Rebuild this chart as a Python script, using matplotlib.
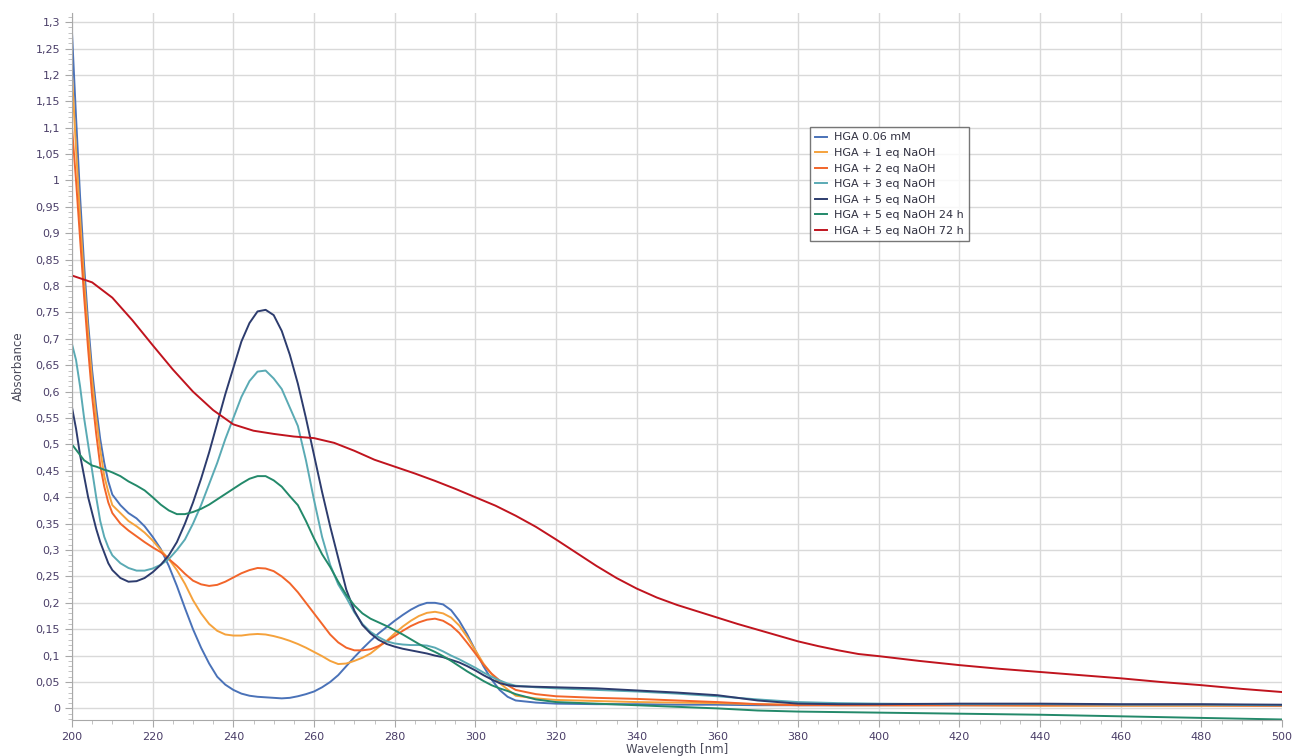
import matplotlib
matplotlib.use("Agg")
import matplotlib.pyplot as plt
from matplotlib.ticker import MultipleLocator, FuncFormatter

# Wavelength grid (nm) shared by the first six spectra
wavelength = [200, 201, 202, 203, 204, 205, 206, 207, 208, 209, 210,
              212, 214, 216, 218, 220, 222, 224, 226, 228, 230,
              232, 234, 236, 238, 240, 242, 244, 246, 248, 250,
              252, 254, 256, 258, 260, 262, 264, 266, 268, 270,
              272, 274, 276, 278, 280, 282, 284, 286, 288, 290,
              292, 294, 296, 298, 300, 302, 304, 306, 308, 310,
              315, 320, 330, 340, 350, 360, 370, 380, 390, 400,
              420, 440, 460, 480, 500]

hga = [1.28, 1.12, 0.97, 0.84, 0.73, 0.64, 0.57, 0.51, 0.465, 0.43, 0.405,
       0.385, 0.37, 0.36, 0.345, 0.325, 0.302, 0.27, 0.232, 0.19, 0.15,
       0.115, 0.085, 0.06, 0.045, 0.035, 0.028, 0.024, 0.022, 0.021, 0.02,
       0.019, 0.02, 0.023, 0.027, 0.032, 0.04, 0.05, 0.063, 0.08, 0.097,
       0.113, 0.128, 0.142, 0.154, 0.166, 0.177, 0.187, 0.195, 0.2, 0.2,
       0.197, 0.186, 0.166, 0.14, 0.11, 0.08, 0.055, 0.035, 0.022, 0.015,
       0.011, 0.009, 0.008, 0.008, 0.007, 0.007, 0.006, 0.006, 0.006, 0.006,
       0.006, 0.006, 0.006, 0.006, 0.006]

naoh_1 = [1.2, 1.06, 0.93, 0.81, 0.71, 0.62, 0.55, 0.49, 0.44, 0.41, 0.385,
          0.37, 0.355, 0.345, 0.333, 0.318, 0.3, 0.283, 0.262, 0.236, 0.205,
          0.18, 0.16, 0.147, 0.14, 0.138, 0.138, 0.14, 0.141, 0.14, 0.137,
          0.133, 0.128, 0.122, 0.115, 0.107, 0.099, 0.09, 0.084, 0.085, 0.09,
          0.096, 0.104, 0.116, 0.128, 0.142, 0.155, 0.166, 0.175, 0.181, 0.183,
          0.18, 0.172, 0.157, 0.135, 0.11, 0.085, 0.065, 0.048, 0.036, 0.024,
          0.019, 0.016, 0.014, 0.012, 0.011, 0.01, 0.008, 0.007, 0.006, 0.006,
          0.006, 0.005, 0.005, 0.005, 0.005]

naoh_2 = [1.1, 1.0, 0.89, 0.78, 0.68, 0.59, 0.52, 0.46, 0.42, 0.39, 0.37,
          0.35, 0.337, 0.326, 0.315, 0.305, 0.296, 0.283, 0.27, 0.255, 0.242,
          0.235, 0.232, 0.234, 0.24, 0.248, 0.256, 0.262, 0.266, 0.265, 0.26,
          0.25, 0.237, 0.22, 0.2, 0.18, 0.16, 0.14, 0.125, 0.115, 0.11,
          0.11, 0.112, 0.118, 0.127, 0.137, 0.147, 0.156, 0.163, 0.168, 0.17,
          0.166, 0.157, 0.143, 0.124, 0.104, 0.083, 0.066, 0.053, 0.044, 0.035,
          0.027, 0.023, 0.02, 0.018, 0.015, 0.012, 0.008, 0.006, 0.006, 0.006,
          0.006, 0.006, 0.006, 0.006, 0.005]

naoh_3 = [0.69, 0.66, 0.61, 0.55, 0.5, 0.45, 0.4, 0.355, 0.325, 0.305, 0.29,
          0.275, 0.266, 0.261, 0.261, 0.265, 0.272, 0.283, 0.3, 0.32, 0.35,
          0.385, 0.425, 0.465, 0.51, 0.55, 0.59, 0.62, 0.638, 0.64, 0.625,
          0.605, 0.57, 0.535, 0.47, 0.395, 0.325, 0.272, 0.235, 0.21, 0.182,
          0.16, 0.145, 0.135, 0.127, 0.123, 0.121, 0.12, 0.12, 0.119, 0.115,
          0.108, 0.1, 0.093, 0.085, 0.077, 0.068, 0.06, 0.053, 0.047, 0.043,
          0.04, 0.038, 0.035, 0.032, 0.028, 0.023, 0.017, 0.012, 0.01, 0.009,
          0.008, 0.008, 0.007, 0.007, 0.006]

naoh_5 = [0.57, 0.53, 0.48, 0.44, 0.4, 0.37, 0.34, 0.315, 0.295, 0.275, 0.262,
          0.247, 0.24, 0.241, 0.247, 0.258, 0.272, 0.29, 0.315, 0.35, 0.39,
          0.435, 0.485, 0.54, 0.595, 0.645, 0.695, 0.73, 0.752, 0.755, 0.745,
          0.715, 0.67, 0.615, 0.55, 0.48, 0.41, 0.345, 0.285, 0.225, 0.185,
          0.158, 0.142, 0.13, 0.122, 0.117, 0.113, 0.11, 0.107, 0.104, 0.1,
          0.097, 0.092, 0.087, 0.08, 0.072, 0.063, 0.055, 0.048, 0.044, 0.042,
          0.041, 0.04, 0.038, 0.034, 0.03, 0.025, 0.015, 0.009, 0.008, 0.008,
          0.009, 0.009, 0.008, 0.008, 0.007]

naoh_5_24h = [0.5, 0.49, 0.48, 0.47, 0.465, 0.46, 0.458, 0.455, 0.452, 0.45, 0.447,
              0.44, 0.43, 0.422, 0.413, 0.4, 0.386, 0.375, 0.368, 0.368, 0.372,
              0.378, 0.386, 0.396, 0.406, 0.416, 0.426, 0.435, 0.44, 0.44, 0.432,
              0.42, 0.402, 0.385, 0.355, 0.322, 0.292, 0.268, 0.24, 0.215, 0.195,
              0.18, 0.17, 0.163, 0.156, 0.148, 0.14, 0.131, 0.122, 0.114, 0.107,
              0.099, 0.09, 0.08, 0.07, 0.061, 0.052, 0.044, 0.038, 0.033, 0.027,
              0.017, 0.012, 0.009, 0.006, 0.003, 0.0, -0.004, -0.006, -0.007, -0.008,
              -0.01, -0.012, -0.015, -0.018, -0.021]

# 72 h spectrum is broad, sampled on its own grid
wavelength_72h = [200, 205, 210, 215, 220, 225, 230, 235, 240, 245, 250,
                  255, 260, 265, 270, 275, 280, 285, 290, 295, 300,
                  305, 310, 315, 320, 325, 330, 335, 340, 345, 350,
                  355, 360, 365, 370, 375, 380, 385, 390, 395, 400,
                  410, 420, 430, 440, 450, 460, 470, 480, 490, 500]

naoh_5_72h = [0.82, 0.807, 0.778, 0.735, 0.688, 0.642, 0.6, 0.565, 0.538, 0.526, 0.52,
              0.515, 0.512, 0.503, 0.488, 0.471, 0.458, 0.445, 0.431, 0.416, 0.4,
              0.384, 0.365, 0.344, 0.32, 0.295, 0.27, 0.247, 0.227, 0.21, 0.196,
              0.184, 0.172, 0.16, 0.149, 0.138, 0.127, 0.118, 0.11, 0.103, 0.099,
              0.09, 0.082, 0.075, 0.069, 0.063, 0.057, 0.05, 0.044, 0.037, 0.031]

series = [
    ("HGA 0.06 mM", wavelength, hga, "#4a72b8"),
    ("HGA + 1 eq NaOH", wavelength, naoh_1, "#f5a23c"),
    ("HGA + 2 eq NaOH", wavelength, naoh_2, "#f2652a"),
    ("HGA + 3 eq NaOH", wavelength, naoh_3, "#5aaab4"),
    ("HGA + 5 eq NaOH", wavelength, naoh_5, "#2d3c6e"),
    ("HGA + 5 eq NaOH 24 h", wavelength, naoh_5_24h, "#23896a"),
    ("HGA + 5 eq NaOH 72 h", wavelength_72h, naoh_5_72h, "#c0141e"),
]

label_color = "#4a3e68"

fig = plt.figure(figsize=(12.95, 7.56), dpi=100)
ax = fig.add_axes([0.0556, 0.0476, 0.9344, 0.935])

for name, x, values, color in series:
    ax.plot(x, values, color=color, lw=1.4, label=name)

ax.set_xlim(200, 500)
ax.set_ylim(-0.022, 1.317)

ax.xaxis.set_major_locator(MultipleLocator(20))
ax.xaxis.set_minor_locator(MultipleLocator(5))
ax.yaxis.set_major_locator(MultipleLocator(0.05))
ax.yaxis.set_minor_locator(MultipleLocator(0.01))

# decimal comma on the absorbance axis
ax.yaxis.set_major_formatter(FuncFormatter(lambda v, p: f"{v:.2f}".rstrip("0").rstrip(".").replace(".", ",")))

ax.grid(True, which="major", color="#d9d9d9", lw=1.0)
ax.set_axisbelow(True)

for side in ["top", "right"]:
    ax.spines[side].set_visible(False)
for side in ["left", "bottom"]:
    ax.spines[side].set_color("#a8a8a8")

ax.tick_params(which="major", length=5, color="#a8a8a8", labelsize=8, labelcolor=label_color)
ax.tick_params(which="minor", length=3, color="#b8b8b8")

ax.set_xlabel("Wavelength [nm]", fontsize=8.5, color="#4a4a5a", labelpad=1)
ax.set_ylabel("Absorbance", fontsize=8.5, color="#4a4a5a", labelpad=8)

leg = ax.legend(loc="upper left", bbox_to_anchor=(0.605, 0.847), fontsize=8,
                frameon=True, fancybox=False, shadow=False,
                handlelength=1.1, handletextpad=0.6, labelspacing=0.5,
                borderpad=0.5)
leg.get_frame().set_edgecolor("#555555")
leg.get_frame().set_linewidth(1.0)
for t in leg.get_texts():
    t.set_color("#303040")

fig.savefig("out.png", dpi=100)
